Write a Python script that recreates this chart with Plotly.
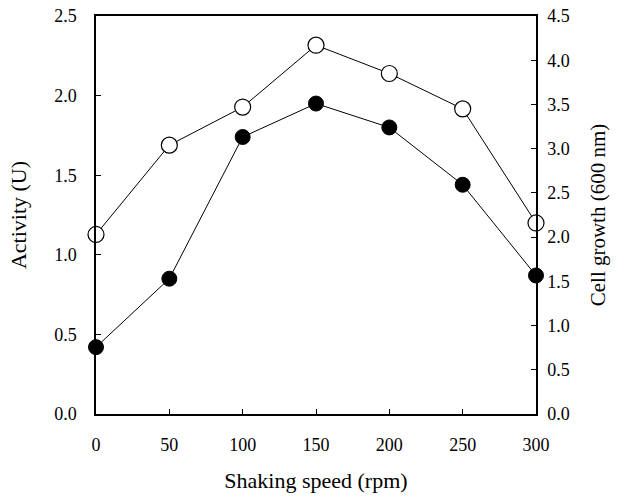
import plotly.graph_objects as go

speed = [0, 50, 100, 150, 200, 250, 300]
activity = [0.42, 0.85, 1.74, 1.95, 1.80, 1.44, 0.87]
cell_growth = [2.03, 3.04, 3.47, 4.17, 3.85, 3.45, 2.16]

left_ticks = [0.0, 0.5, 1.0, 1.5, 2.0, 2.5]
right_ticks = [0.0, 0.5, 1.0, 1.5, 2.0, 2.5, 3.0, 3.5, 4.0, 4.5]
x_ticks = [0, 50, 100, 150, 200, 250, 300]

font_family = "Liberation Serif"

fig = go.Figure()
fig.add_trace(go.Scatter(
    x=speed, y=cell_growth, yaxis="y2", mode="lines+markers",
    line=dict(color="black", width=1),
    marker=dict(symbol="circle", size=16, color="white",
                line=dict(color="black", width=1.2)),
    cliponaxis=False, showlegend=False, name="Cell growth"))
fig.add_trace(go.Scatter(
    x=speed, y=activity, mode="lines+markers",
    line=dict(color="black", width=1),
    marker=dict(symbol="circle", size=15, color="black",
                line=dict(color="black", width=1)),
    cliponaxis=False, showlegend=False, name="Activity"))

fig.update_layout(
    width=635, height=497,
    margin=dict(l=96, r=99, t=16, b=83),
    paper_bgcolor="white", plot_bgcolor="white",
    font=dict(family=font_family, color="black", size=18),
    xaxis=dict(
        range=[0, 300], tickvals=x_ticks, ticktext=[str(v) for v in x_ticks],
        ticks="inside", ticklen=5, tickcolor="black",
        showline=True, linecolor="black", linewidth=1.5, mirror=True,
        showgrid=False, zeroline=False, ticklabelstandoff=14, automargin=False,
        title=dict(text="Shaking speed (rpm)", font=dict(size=22), standoff=18),
    ),
    yaxis=dict(
        range=[0, 2.5], tickvals=left_ticks, ticktext=[f"{v:.1f}" for v in left_ticks],
        ticks="inside", ticklen=5, tickcolor="black",
        showline=True, linecolor="black", linewidth=1.5,
        showgrid=False, zeroline=False, ticklabelstandoff=14, automargin=False,
        title=dict(text="Activity (U)", font=dict(size=22), standoff=21),
    ),
    yaxis2=dict(
        range=[0, 4.5], tickvals=right_ticks, ticktext=[f"{v:.1f}" for v in right_ticks],
        overlaying="y", side="right",
        ticks="inside", ticklen=5, tickcolor="black",
        showline=True, linecolor="black", linewidth=1.5,
        showgrid=False, zeroline=False, ticklabelstandoff=6, automargin=False,
        title=dict(text="Cell growth (600 nm)", font=dict(size=21), standoff=21),
    ),
)

fig.write_html("out.html", config={"displayModeBar": False},
               post_script="document.body.style.margin='0';")
